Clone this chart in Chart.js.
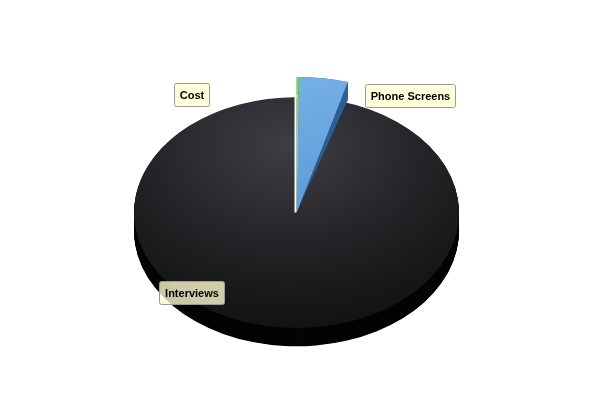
<!DOCTYPE html>
<html><head><meta charset="utf-8">
<script src="https://cdn.jsdelivr.net/npm/chart.js@4/dist/chart.umd.min.js"></script>
<style>html,body{margin:0;padding:0;background:#fff}#wrap{width:600px;height:400px}</style>
</head><body><div id="wrap"><canvas id="c" width="600" height="400"></canvas></div>
<script>
// ---- data ----
const categories = ['Cost', 'Phone Screens', 'Interviews'];
const values = [0.2, 4.13, 95.67];

// ---- styling (kept apart from the data) ----
const topColors = ['#6fcf5f', '#6aa8df', '#26262a'];
const sideColors = ['#3c8a33', '#2a5e94', '#040404'];
const radiusScale = [1.175, 1.175, 1];
const labelAnchor = [[-0.646, -1.023], [0.700, -1.016], [-0.646, 0.693]];
const TILT = 0.71, DEPTH = 18;

function sliceFill(c) {
  const chart = c.chart, a = chart.chartArea;
  if (!a) return topColors[c.dataIndex];
  const g = chart.ctx;
  const cx = (a.left + a.right) / 2, cy = (a.top + a.bottom) / 2;
  if (c.dataIndex === 2) {
    const gr = g.createRadialGradient(cx - 10, cy - 95, 0, cx - 10, cy - 95, 270);
    gr.addColorStop(0, '#3d3d44');
    gr.addColorStop(0.35, '#2c2c31');
    gr.addColorStop(0.7, '#1c1c1e');
    gr.addColorStop(1, '#111112');
    return gr;
  }
  if (c.dataIndex === 1) {
    const gr = g.createLinearGradient(cx, cy - 190, cx + 60, cy);
    gr.addColorStop(0, '#74b0e6');
    gr.addColorStop(1, '#5b9ad6');
    return gr;
  }
  const gr = g.createLinearGradient(cx, 0, cx + 3, 0);
  gr.addColorStop(0, '#a4e696');
  gr.addColorStop(1, '#5cc24c');
  return gr;
}

function rimPoint(el, ang, dy) {
  return [el.x + Math.cos(ang) * el.outerRadius, el.y + Math.sin(ang) * el.outerRadius + dy];
}

const pie3d = {
  id: 'pie3d',
  afterDatasetUpdate(chart, args) {
    const meta = chart.getDatasetMeta(args.index);
    meta.data.forEach((el, i) => { el.outerRadius = el.outerRadius * radiusScale[i]; });
  },
  beforeDatasetsDraw(chart) {
    const ctx = chart.ctx;
    const els = chart.getDatasetMeta(0).data;
    const cx = els[0].x, cy = els[0].y;
    ctx.save();
    ctx.translate(cx, cy); ctx.scale(1, TILT); ctx.translate(-cx, -cy);
    const depth = DEPTH / TILT;
    [2, 1, 0].forEach(i => {
      const el = els[i];
      ctx.fillStyle = sideColors[i];
      if (radiusScale[i] === 1) {
        for (let k = Math.ceil(depth); k >= 1; k--) {
          ctx.beginPath();
          ctx.moveTo(el.x, el.y + k);
          ctx.arc(el.x, el.y + k, el.outerRadius, el.startAngle, el.endAngle);
          ctx.closePath();
          ctx.fill();
        }
      } else {
        // outer band
        ctx.beginPath();
        ctx.arc(el.x, el.y, el.outerRadius, el.startAngle, el.endAngle);
        ctx.arc(el.x, el.y + depth, el.outerRadius, el.endAngle, el.startAngle, true);
        ctx.closePath();
        ctx.fill();
        // cut faces tapering to the centre
        [el.startAngle, el.endAngle].forEach(ang => {
          const p = rimPoint(el, ang, 0), q = rimPoint(el, ang, depth);
          ctx.beginPath();
          ctx.moveTo(el.x, el.y);
          ctx.lineTo(p[0], p[1]);
          ctx.lineTo(q[0], q[1]);
          ctx.closePath();
          ctx.fill();
        });
      }
      el.draw(ctx, chart.chartArea);
      if (i === 0) {
        ctx.strokeStyle = '#ffffff';
        ctx.lineWidth = 2;
        ctx.beginPath();
        ctx.moveTo(el.x - 1, el.y);
        ctx.lineTo(el.x - 1 + Math.cos(el.startAngle) * els[2].outerRadius, el.y + Math.sin(el.startAngle) * els[2].outerRadius);
        ctx.stroke();
      }
    });
    ctx.restore();
    return false;
  },
  afterDraw(chart) {
    const ctx = chart.ctx;
    const els = chart.getDatasetMeta(0).data;
    const R = els[2].outerRadius;
    ctx.save();
    ctx.font = 'bold 11px "Liberation Sans", Arial, sans-serif';
    ctx.textAlign = 'center';
    ctx.textBaseline = 'middle';
    chart.data.labels.forEach((lab, i) => {
      const bx = els[i].x + labelAnchor[i][0] * R;
      const by = els[i].y + labelAnchor[i][1] * R * TILT;
      const w = Math.round(ctx.measureText(lab).width + 11), h = 23;
      const x0 = Math.round(bx - w / 2) + 0.5, y0 = Math.round(by - h / 2) + 0.5;
      ctx.fillStyle = 'rgba(255,255,208,0.79)';
      ctx.beginPath();
      ctx.roundRect(x0, y0, w, h, 2);
      ctx.fill();
      ctx.strokeStyle = '#9a9a9a';
      ctx.lineWidth = 1;
      ctx.stroke();
      ctx.fillStyle = '#000';
      ctx.fillText(lab, x0 + w / 2, y0 + h / 2 + 0.5);
    });
    ctx.restore();
  }
};

new Chart(document.getElementById('c'), {
  type: 'pie',
  data: {
    labels: categories,
    datasets: [{
      data: values,
      backgroundColor: sliceFill,
      borderWidth: 0,
      radius: 162.5
    }]
  },
  options: {
    responsive: false,
    animation: false,
    events: [],
    layout: { padding: { left: 0, right: 7, top: 25, bottom: 0 } },
    plugins: { legend: { display: false }, tooltip: { enabled: false } }
  },
  plugins: [pie3d]
});
</script>
</body></html>
